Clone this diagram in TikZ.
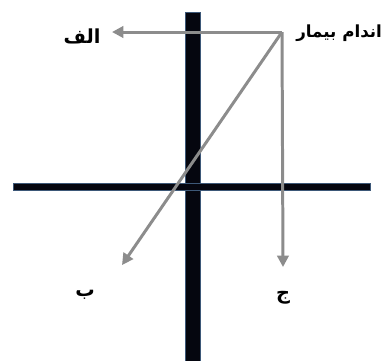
\documentclass[tikz,border=0pt]{standalone}
\usepackage{fontspec}
\usepackage{tikz}
\usetikzlibrary{arrows.meta}
\TeXXeTstate=1
\newfontfamily\farsifont[Script=Arabic]{DejaVu Sans}
\definecolor{barfill}{HTML}{05060F}
\definecolor{baredge}{HTML}{3D5878}
\definecolor{raygray}{HTML}{8C8C8C}
\tikzset{
  bar/.style={fill=barfill, draw=baredge, line width=0.5pt},
  ray/.style={-{Triangle[length=6.5pt,width=6.5pt]}, draw=raygray, line width=1.7pt},
  lbl/.style={font=\farsifont\bfseries\fontsize{11}{13}\selectfont, inner sep=1pt}
}
\begin{document}
\begin{tikzpicture}[x=0.02cm,y=-0.02cm]
  \useasboundingbox (0,0) rectangle (384,360);
  % the two bars
  \filldraw[bar] (185,12) rectangle (200,362);
  \filldraw[bar] (13,183) rectangle (370,190);

  % labels
  \node[lbl, anchor=east, font=\farsifont\bfseries\fontsize{9.5}{12}\selectfont] (limb) at (384,33) {\beginR اندام بیمار\endR};
  \node[lbl] (alef) at (82,36) {\beginR الف\endR};
  \node[lbl] (be) at (85,295) {\beginR ب\endR};
  \node[lbl] (jim) at (283,298) {\beginR ج\endR};

  \coordinate (src) at (282,32);
  \coordinate (endA) at (112,32);
  \coordinate (endB) at (122,265);
  \coordinate (endC) at (283,267);

  \draw[ray] (src) -- (endA);
  \draw[ray] (src) -- (endB);
  \draw[ray] (src) -- (endC);
\end{tikzpicture}
\end{document}
